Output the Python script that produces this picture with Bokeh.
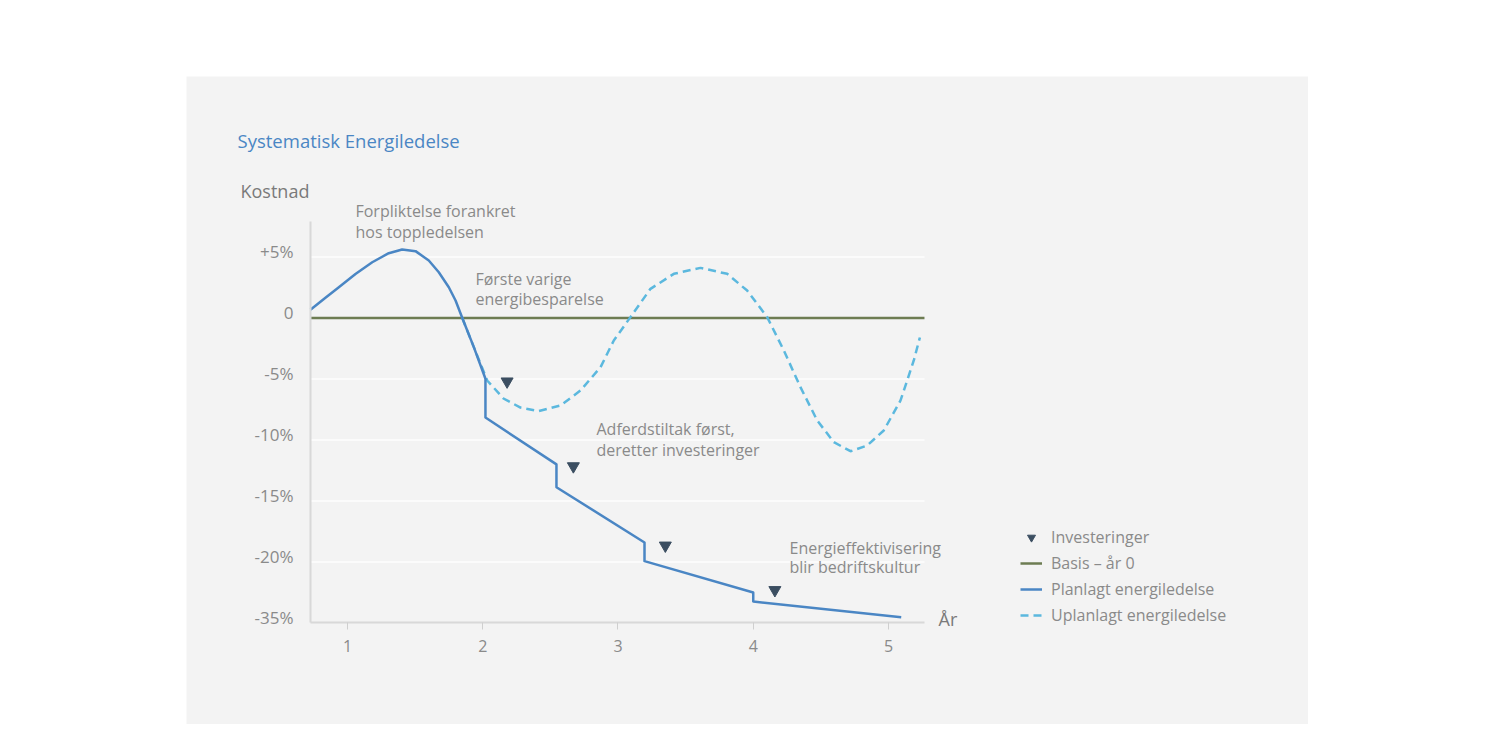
from bokeh.plotting import figure
from bokeh.models import (Range1d, LinearAxis, FixedTicker, Label, Legend, LegendItem)
from bokeh.embed import file_html
from bokeh.resources import INLINE

# ---------------- data ----------------
title = "Systematisk Energiledelse"
years = [1, 2, 3, 4, 5]
y_ticks = [5, 0, -5, -10, -15, -20, -25]
y_tick_labels = ["+5%", "0", "-5%", "-10%", "-15%", "-20%", "-35%"]
grid_values = [5, -5, -10, -15, -20]

planned_x = [0.726, 0.837, 0.936, 1.059, 1.183, 1.305, 1.404, 1.503, 1.601, 1.675, 1.749, 1.799,
             1.848, 1.934, 2.020,
             2.020, 2.545, 2.545, 3.196, 3.196, 4.000, 4.000, 5.094]
planned_y = [0.67, 1.66, 2.52, 3.61, 4.57, 5.31, 5.61, 5.48, 4.71, 3.75, 2.52, 1.43,
             0.02, -2.39, -4.98,
             -8.16, -12.00, -13.87, -18.40, -19.93, -22.50, -23.24, -24.52]

unplanned_x = [1.848, 1.934, 2.033, 2.153, 2.279, 2.412, 2.575, 2.723, 2.871, 2.969, 3.092,
               3.240, 3.413, 3.610, 3.807, 3.955, 4.103, 4.226, 4.349, 4.473, 4.596, 4.719,
               4.843, 4.965, 5.089, 5.187, 5.232]
unplanned_y = [0.02, -2.39, -5.12, -6.60, -7.34, -7.64, -7.17, -5.94, -4.03, -1.84, 0.07,
               2.39, 3.62, 4.11, 3.62, 2.25, 0.07, -2.66, -5.67, -8.40, -10.18, -10.92,
               -10.45, -9.22, -6.76, -3.48, -1.60]

basis_x = [0.726, 5.266]
basis_y = [0, 0]

invest_x = [2.18, 2.67, 3.35, 4.16]
invest_y = [-5.2, -12.15, -18.65, -22.3]

annotations = [
    ("Forpliktelse forankret", 1.059, 8.73),
    ("hos toppledelsen", 1.059, 7.09),
    ("Første varige", 1.946, 3.16),
    ("energibesparelse", 1.946, 1.52),
    ("Adferdstiltak først,", 2.841, -9.06),
    ("deretter investeringer", 2.841, -10.78),
    ("Energieffektivisering", 4.268, -18.89),
    ("blir bedriftskultur", 4.268, -20.45),
]

legend_labels = ["Investeringer", "Basis – år 0", "Planlagt energiledelse", "Uplanlagt energiledelse"]

# ---------------- styles ----------------
FONT = "Open Sans"
GRAY = "#8a8a8a"
BLUE = "#4a86c4"
LIGHT_BLUE = "#5bb8de"
OLIVE = "#6d7c52"
DARK = "#3b4e61"
BG = "#f3f3f3"

X0, X1 = 0.726, 5.266     # plot area extent (years)
Y0, Y1 = -25, 7.95        # plot area extent (value units)

p = figure(width=1122, height=648,
           x_range=Range1d(-0.1904, 8.1054), y_range=Range1d(-33.32, 19.795),
           output_backend="svg", toolbar_location=None,
           min_border_left=0, min_border_right=0, min_border_top=0, min_border_bottom=0,
           background_fill_color=BG, border_fill_color=BG, outline_line_color=None,
           x_axis_location=None, y_axis_location=None)
p.margin = (76, 0, 0, 186)
p.xgrid.visible = False
p.ygrid.visible = False

# grid lines (limited to plot area)
p.segment(x0=[X0] * len(grid_values), x1=[X1] * len(grid_values), y0=grid_values, y1=grid_values,
          line_color="#fbfbfb", line_width=2)

# x axis
xa = LinearAxis(fixed_location=Y0, bounds=(X0, X1), ticker=FixedTicker(ticks=years))
xa.axis_line_color = "#d8d8d8"
xa.axis_line_width = 2
xa.major_tick_in = 0
xa.major_tick_out = 7
xa.major_tick_line_color = "#cfcfcf"
xa.minor_tick_line_color = None
xa.major_label_text_font = FONT
xa.major_label_text_font_size = "16px"
xa.major_label_text_color = GRAY
xa.major_label_standoff = 10
p.add_layout(xa, "below")

# y axis (labels shifted slightly above grid lines through an offset range)
p.extra_y_ranges = {"lab": Range1d(-33.32 - 0.49, 19.795 - 0.49)}
ya = LinearAxis(y_range_name="lab", fixed_location=X0, bounds=(Y0 - 0.49, Y1 - 0.49),
                ticker=FixedTicker(ticks=y_ticks),
                major_label_overrides={t: l for t, l in zip(y_ticks, y_tick_labels)})
ya.axis_line_color = "#d8d8d8"
ya.axis_line_width = 2
ya.major_tick_line_color = None
ya.minor_tick_line_color = None
ya.major_label_text_font = FONT
ya.major_label_text_font_size = "17px"
ya.major_label_text_color = GRAY
ya.major_label_standoff = 11
p.add_layout(ya, "left")

# series
r_basis = p.line(basis_x, basis_y, line_color=OLIVE, line_width=2.5)
r_unpl = p.line(unplanned_x, unplanned_y, line_color=LIGHT_BLUE, line_width=2.5, line_dash="8 5")
r_plan = p.line(planned_x, planned_y, line_color=BLUE, line_width=2.5, line_join="round")
r_inv = p.scatter(invest_x, invest_y, marker="inverted_triangle", size=12,
                  fill_color=DARK, line_color=DARK)

# annotation texts
for txt, x, y in annotations:
    p.add_layout(Label(x=x, y=y, text=txt, text_font=FONT, text_font_size="16px",
                       text_color=GRAY, text_baseline="middle", text_align="left"))

p.add_layout(Label(x=5.37, y=-24.7, text="År", text_font=FONT, text_font_size="18px",
                   text_color="#7a7a7a", text_baseline="middle", text_align="left"))
p.add_layout(Label(x=0.209, y=10.37, text="Kostnad", text_font=FONT, text_font_size="18px",
                   text_color="#7a7a7a", text_baseline="middle", text_align="left"))
p.add_layout(Label(x=0.187, y=14.55, text=title, text_font=FONT, text_font_size="18.5px",
                   text_color=BLUE, text_baseline="middle", text_align="left"))

legend = Legend(items=[LegendItem(label=legend_labels[0], renderers=[r_inv]),
                       LegendItem(label=legend_labels[1], renderers=[r_basis]),
                       LegendItem(label=legend_labels[2], renderers=[r_plan]),
                       LegendItem(label=legend_labels[3], renderers=[r_unpl])],
                location=(834, 98), orientation="vertical",
                background_fill_alpha=0, border_line_color=None,
                padding=0, margin=0, spacing=4,
                glyph_width=22, glyph_height=20, label_height=20, label_standoff=9,
                label_text_font=FONT, label_text_font_size="16px", label_text_color=GRAY)
p.add_layout(legend)

open("out.html", "w").write(file_html(p, INLINE))
